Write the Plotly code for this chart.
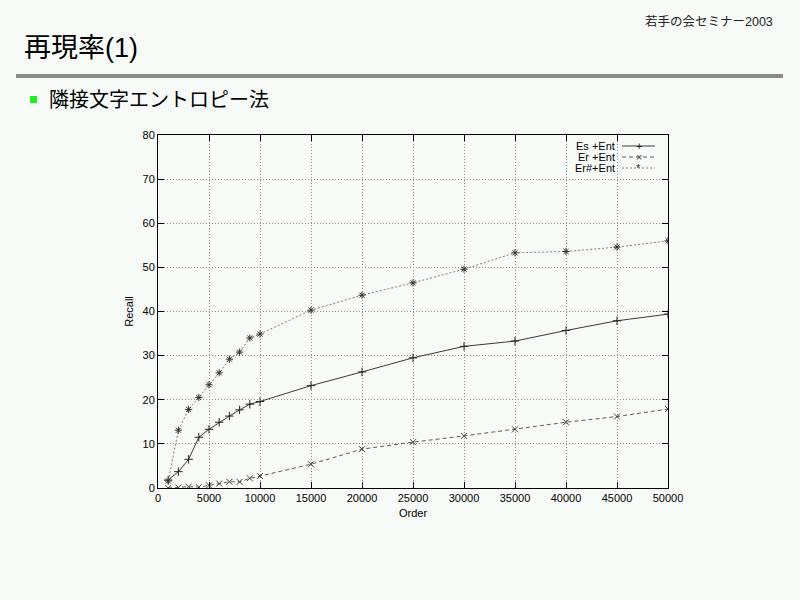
import plotly.graph_objects as go

# ---- data ----
orders = [1000, 2000, 3000, 4000, 5000, 6000, 7000, 8000, 9000, 10000,
          15000, 20000, 25000, 30000, 35000, 40000, 45000, 50000]
es_ent = [1.8, 3.7, 6.5, 11.5, 13.3, 14.9, 16.3, 17.7, 19.0, 19.6,
          23.2, 26.3, 29.5, 32.1, 33.3, 35.7, 37.9, 39.4]
er_ent = [0.0, 0.1, 0.3, 0.2, 0.6, 1.0, 1.4, 1.4, 2.2, 2.7,
          5.4, 8.8, 10.4, 11.8, 13.3, 14.9, 16.2, 17.9]
ersharp_ent = [1.6, 13.1, 17.8, 20.5, 23.4, 26.1, 29.2, 30.8, 34.0, 34.9,
               40.3, 43.7, 46.5, 49.6, 53.3, 53.6, 54.6, 56.0]
series_names = ["Es +Ent", "Er +Ent", "Er#+Ent"]
x_ticks = [0, 5000, 10000, 15000, 20000, 25000, 30000, 35000, 40000, 45000, 50000]
y_ticks = [0, 10, 20, 30, 40, 50, 60, 70, 80]

BG = "#f7fbf7"
FONT = "Liberation Sans, Arial, sans-serif"
JFONT = "Liberation Sans, Noto Sans CJK JP, sans-serif"

# page offset (figure is placed 8px in from the page edge)
O = 8
W, H = 800 - O, 600 - O
# plot area in page pixels
L, R, T, B = 158, 668, 135, 488

def px(x):
    return (x - L) / (R - L)

def py(y):
    return (B - y) / (B - T)

styles = [
    dict(color="#3a3a3a", dash="solid", symbol="cross-thin", mcolor="#202020"),
    dict(color="#5a5a5a", dash="4px,3px", symbol="x-thin", mcolor="#404040"),
    dict(color="#7a7a7a", dash="2px,2px", symbol="asterisk", mcolor="#303030"),
]

fig = go.Figure()
for name, ys, st in zip(series_names, [es_ent, er_ent, ersharp_ent], styles):
    fig.add_trace(go.Scatter(
        x=orders, y=ys, mode="lines+markers", name=name,
        line=dict(color=st["color"], width=1, dash=st["dash"]),
        marker=dict(symbol=st["symbol"], size=6, color=st["mcolor"],
                    line=dict(color=st["mcolor"], width=1)),
        showlegend=False,
    ))

axis_common = dict(
    showline=True, linecolor="black", linewidth=1, mirror="ticks",
    ticks="inside", ticklen=6, tickcolor="black",
    showgrid=True, gridcolor="#8a8a8a", griddash="1px,2px", gridwidth=1,
    zeroline=False, tickfont=dict(family=FONT, size=11, color="black"),
)

fig.update_layout(
    width=W, height=H,
    paper_bgcolor=BG, plot_bgcolor=BG,
    margin=dict(l=L - O, r=800 - R, t=T - O, b=600 - B),
    xaxis=dict(range=[0, 50000], tickvals=x_ticks,
               ticktext=[str(v) for v in x_ticks],
               title=dict(text="Order", font=dict(family=FONT, size=11, color="black"), standoff=6),
               **axis_common),
    yaxis=dict(range=[0, 80], tickvals=y_ticks,
               title=dict(text="Recall", font=dict(family=FONT, size=11, color="black"), standoff=6),
               **axis_common),
    font=dict(family=FONT),
)

# custom gnuplot-like legend (text then sample)
legend_rows = [146, 157, 168]
legend_marks = ["+", "×", "*"]
for name, ry, st, mk in zip(series_names, legend_rows, styles, legend_marks):
    fig.add_annotation(x=px(617), y=py(ry), xref="paper", yref="paper",
                       text=name, showarrow=False, xanchor="right", yanchor="middle",
                       font=dict(family=FONT, size=11, color="black"))
    fig.add_shape(type="line", xref="paper", yref="paper",
                  x0=px(622), x1=px(655), y0=py(ry), y1=py(ry),
                  line=dict(color=st["color"], width=1, dash=st["dash"]))
    fig.add_annotation(x=px(638.5), y=py(ry), xref="paper", yref="paper",
                       text=mk, showarrow=False, xanchor="center", yanchor="middle",
                       font=dict(family=FONT, size=11, color=st["mcolor"]))

# slide decorations
fig.add_annotation(x=px(22), y=py(48), xref="paper", yref="paper",
                   text="再現率(1)", showarrow=False, xanchor="left", yanchor="middle",
                   font=dict(family=JFONT, size=27, color="black"))
fig.add_annotation(x=px(775), y=py(21), xref="paper", yref="paper",
                   text="若手の会セミナー2003", showarrow=False, xanchor="right", yanchor="middle",
                   font=dict(family=JFONT, size=12.5, color="#222222"))
fig.add_shape(type="line", xref="paper", yref="paper",
              x0=px(16), x1=px(783), y0=py(76), y1=py(76),
              line=dict(color="#8a8a8a", width=4))
fig.add_shape(type="rect", xref="paper", yref="paper",
              x0=px(30), x1=px(37), y0=py(103), y1=py(96),
              line=dict(width=0), fillcolor="#22ee22")
fig.add_annotation(x=px(47), y=py(100), xref="paper", yref="paper",
                   text="隣接文字エントロピー法", showarrow=False, xanchor="left", yanchor="middle",
                   font=dict(family=JFONT, size=20, color="black"))

fig.write_html("out.html",
               post_script="document.body.style.background='%s';" % BG)
